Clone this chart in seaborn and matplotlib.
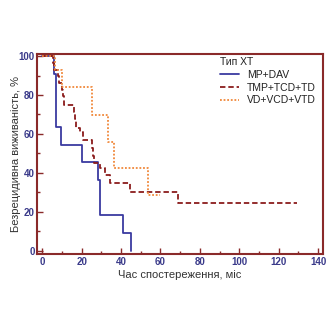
import matplotlib
matplotlib.use("Agg")
import matplotlib.pyplot as plt
import seaborn as sns
import pandas as pd
from matplotlib.ticker import MultipleLocator

# Kaplan-Meier step points (time in months, relapse-free survival in %)
groups = ["MP+DAV", "TMP+TCD+TD", "VD+VCD+VTD"]

times_mp = [0, 5.9, 6.8, 7.2, 9.3, 20.0, 28.4, 29.3, 40.8, 44.8]
surv_mp = [100, 90.9, 81.8, 63.6, 54.5, 45.5, 36.4, 18.2, 9.1, 0]

times_tmp = [0, 5.5, 6.2, 7.8, 8.5, 9.8, 10.3, 10.8, 16.3, 16.8, 17.3, 19.1,
             20.5, 25.0, 25.8, 26.5, 29.3, 31.8, 34.3, 44.5, 69.0, 129.0]
surv_tmp = [100, 96.5, 93.1, 89.7, 86.2, 82.8, 79.3, 74.8, 71.4, 67.5, 62.9, 61.1,
            56.9, 52.6, 48.5, 44.9, 42.3, 38.9, 34.6, 30.3, 24.3, 24.3]

times_vd = [0, 6.5, 9.8, 25.4, 33.5, 36.5, 53.8, 59.7]
surv_vd = [100, 92.9, 84.0, 69.5, 56.0, 42.3, 28.6, 28.6]

x_ticks = [0, 20, 40, 60, 80, 100, 120, 140]
y_ticks = [0, 20, 40, 60, 80, 100]

frames = []
for g, t, s in zip(groups, [times_mp, times_tmp, times_vd], [surv_mp, surv_tmp, surv_vd]):
    frames.append(pd.DataFrame({"t": t, "s": s, "group": g}))
df = pd.concat(frames, ignore_index=True)

sns.set_theme(style="white")
plt.rcParams["font.family"] = ["Liberation Sans", "DejaVu Sans"]

spine_col = "#8a2a2a"
palette = {"MP+DAV": "#3a3aa0", "TMP+TCD+TD": "#8b1c1c", "VD+VCD+VTD": "#f0883a"}
dashes = {"MP+DAV": "", "TMP+TCD+TD": (3, 1.6), "VD+VCD+VTD": (1, 1)}

fig = plt.figure(figsize=(3.3, 3.3), dpi=100)
ax = fig.add_axes([0.113, 0.230, 0.865, 0.606])

sns.lineplot(data=df, x="t", y="s", hue="group", style="group",
             palette=palette, dashes=dashes, estimator=None, sort=False,
             drawstyle="steps-post", linewidth=1.3, legend=False, ax=ax)

ax.set_xlim(-2.5, 142.3)
ax.set_ylim(-1.7, 101)
ax.set_xticks(x_ticks)
ax.set_yticks(y_ticks)
ax.xaxis.set_minor_locator(MultipleLocator(10))
ax.yaxis.set_minor_locator(MultipleLocator(10))
ax.tick_params(which="both", direction="in", color=spine_col, width=1.0,
               bottom=True, left=True, top=False, right=False)
ax.tick_params(which="major", length=4)
ax.tick_params(which="minor", length=2.5)
ax.tick_params(axis="both", which="major", labelsize=7, labelcolor="#3a3a8a", pad=2)
for lab in ax.get_xticklabels() + ax.get_yticklabels():
    lab.set_fontweight("bold")

for sp in ax.spines.values():
    sp.set_color(spine_col)
    sp.set_linewidth(1.5)

ax.set_xlabel("Час спостереження, міс", fontsize=8, color="#333333", labelpad=2)
ax.set_ylabel("Безрецидивна виживаність, %", fontsize=8, color="#333333", labelpad=-2)

handles = ax.get_lines()[:3]
leg = ax.legend(handles, groups, title="Тип ХТ", loc="upper left",
                bbox_to_anchor=(0.615, 1.02), frameon=False, fontsize=7.5,
                title_fontsize=7.5, handlelength=1.8, handletextpad=0.8,
                labelspacing=0.25, borderpad=0.2)
leg._legend_box.align = "left"
for txt in leg.get_texts():
    txt.set_color("#222222")
leg.get_title().set_color("#222222")

fig.savefig("out.png", dpi=100)
